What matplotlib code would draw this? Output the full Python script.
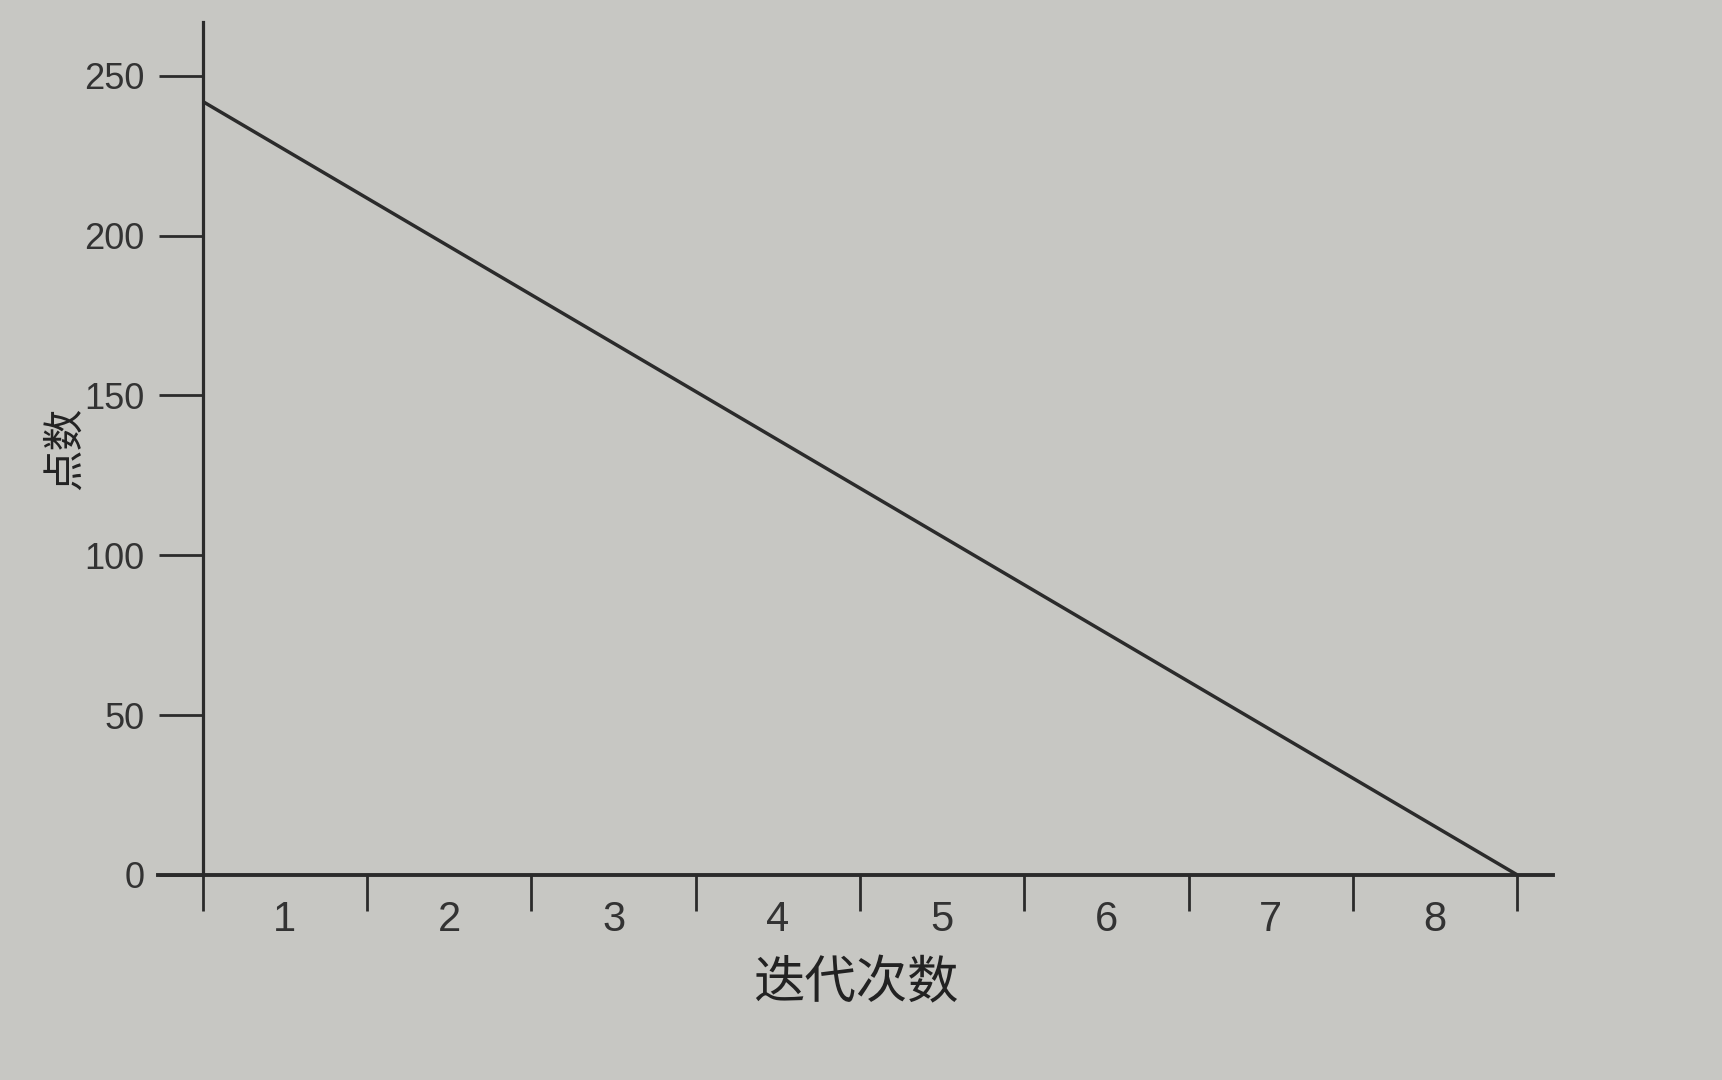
import matplotlib
matplotlib.use('Agg')
import matplotlib.pyplot as plt
import numpy as np

plt.rcParams['font.family'] = ['Liberation Sans', 'Noto Sans CJK SC', 'DejaVu Sans']

# データ
iterations = [0, 8]          # 直線の始点と終点（区間の端）
points = [242, 0]            # 点数
iter_labels = ['1', '2', '3', '4', '5', '6', '7', '8']
y_ticks = [0, 50, 100, 150, 200, 250]

bg = '#c7c7c3'
ink = '#2b2b2b'

fig = plt.figure(figsize=(17.22, 10.8), dpi=100, facecolor=bg)
ax = fig.add_axes([0.092, 0.19, 0.81, 0.79])
ax.set_facecolor(bg)

ax.plot(iterations, points, color=ink, linewidth=2.5, solid_capstyle='butt')

ax.set_xlim(-0.27, 8.22)
ax.set_ylim(0, 267)

for s in ['top', 'right']:
    ax.spines[s].set_visible(False)
ax.spines['left'].set_position(('data', 0))
ax.spines['left'].set_color(ink)
ax.spines['bottom'].set_color(ink)
ax.spines['left'].set_linewidth(2.3)
ax.spines['bottom'].set_linewidth(2.8)

# x軸：区間の境界に目盛り、区間の中央にラベル
ax.set_xticks(np.arange(len(iter_labels) + 1))
ax.set_xticklabels([])
ax.set_xticks(np.arange(len(iter_labels)) + 0.5, minor=True)
ax.set_xticklabels(iter_labels, minor=True)
ax.tick_params(axis='x', which='major', direction='out', length=26, width=2.0, color=ink)
ax.tick_params(axis='x', which='minor', length=0, pad=18, labelsize=30, labelcolor='#333333')

ax.set_yticks(y_ticks)
ax.tick_params(axis='y', direction='out', length=32, width=2.0, color=ink,
               pad=10, labelsize=26, labelcolor='#333333')

ax.set_xlabel('迭代次数', family=['Noto Sans CJK SC'], fontsize=37, color='#222222', labelpad=12)
ax.set_ylabel('点数', family=['Noto Sans CJK SC'], fontsize=30, color='#222222')
ax.yaxis.set_label_coords(-0.052, 0.5)

fig.savefig('out.png', dpi=100, facecolor=bg)
